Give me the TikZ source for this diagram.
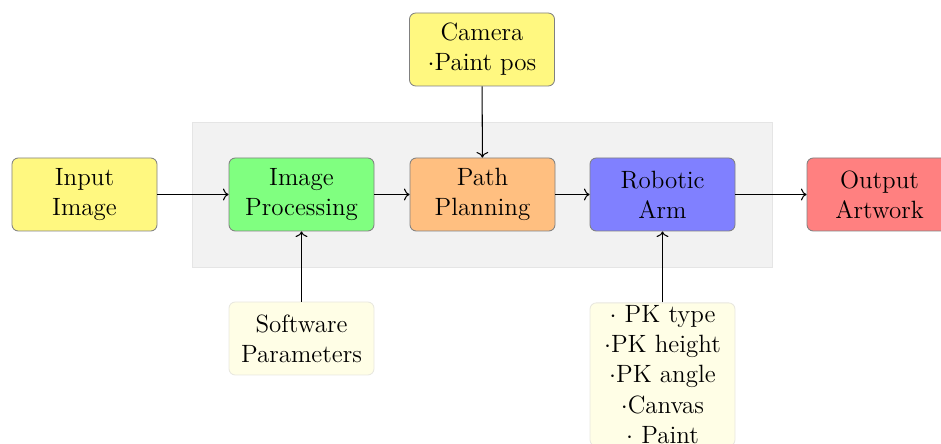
\documentclass[tikz,border=0pt]{standalone}
\usetikzlibrary{arrows.meta}
\begin{document}
\begin{tikzpicture}[x=0.48pt,y=-0.48pt,
  block/.style={draw=gray, rounded corners=3pt, align=center,
    minimum width=69.6pt, minimum height=35.04pt, inner sep=2pt,
    font=\fontsize{12}{14.5}\selectfont},
  paleblock/.style={block, draw=yellow!15!gray!25, fill=yellow!10},
  conn/.style={->, black, line width=0.5pt}]
\useasboundingbox (0,0) rectangle (941,444);
\node[draw=gray!20, fill=gray!10, minimum width=278.4pt, minimum height=69.6pt, anchor=north west, inner sep=0pt] (bg) at (192,122) {};
\node[block, fill=yellow!50] (input) at (84.5,194.5) {Input\\Image};
\node[block, fill=green!50] (improc) at (301.5,194.5) {Image\\Processing};
\node[block, fill=orange!50] (path) at (482.5,194.5) {Path\\Planning};
\node[block, fill=blue!50] (arm) at (662.5,194.5) {Robotic\\Arm};
\node[block, fill=red!50] (output) at (879.5,194.5) {Output\\Artwork};
\node[block, fill=yellow!50] (camera) at (482,49.5) {Camera\\$\cdot$Paint pos};
\node[paleblock] (soft) at (301.5,338.5) {Software\\Parameters};
\node[paleblock, anchor=north, inner ysep=1.2pt] (pk) at (662.5,302.5) {$\cdot$ PK type\\$\cdot$PK height\\$\cdot$PK angle\\$\cdot$Canvas\\$\cdot$ Paint};
\draw[conn] (input) -- (improc);
\draw[conn] (improc) -- (path);
\draw[conn] (path) -- (arm);
\draw[conn] (arm) -- (output);
\draw[conn] (camera) -- (path);
\draw[conn] (soft) -- (improc);
\draw[conn] (pk) -- (arm);
\end{tikzpicture}
\end{document}
